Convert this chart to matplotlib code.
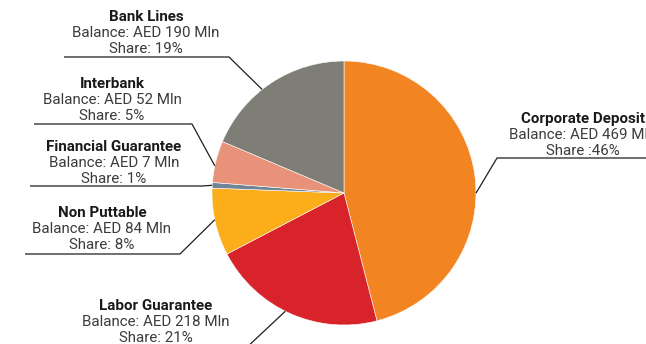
import numpy as np
import matplotlib
matplotlib.use("Agg")
import matplotlib.pyplot as plt

# deposit mix, clockwise from 12 o'clock
categories = ["Corporate Deposit", "Labor Guarantee", "Non Puttable",
              "Financial Guarantee", "Interbank", "Bank Lines"]
balances = [469, 218, 84, 7, 52, 190]  # AED Mln
shares = ["Share :46%", "Share: 21%", "Share: 8%", "Share: 1%", "Share: 5%", "Share: 19%"]
colors = ["#F28522", "#D9232A", "#FBAE1A", "#6F8494", "#E8927A", "#7E7E76"]

W, H = 646, 344
CX, CY, R = 344, 193, 132

# label block: text centre x, first line y, elbow x/y, underline far end x, tip angle offset (deg)
layout = {
    "Corporate Deposit":   (583, 119, 497, 158, 700, -7.3),
    "Labor Guarantee":     (156, 306, 244, 350, 60, -2.4),
    "Non Puttable":        (102, 213, 180, 254, 25, -1.0),
    "Financial Guarantee": (114, 147, 202, 186, 30, 0.0),
    "Interbank":           (112, 84, 192, 124, 34, 1.9),
    "Bank Lines":          (146, 17, 229, 57, 64, 4.8),
}

plt.rcParams["font.family"] = ["Roboto", "DejaVu Sans"]
FS = 10.9

fig = plt.figure(figsize=(W / 100, H / 100), dpi=100)
ax = fig.add_axes([0, 0, 1, 1])


def fy(y):
    # pixel row (from top) to data y
    return H - y


wedges, _ = ax.pie(balances, colors=colors, startangle=90, counterclock=False,
                   center=(CX, fy(CY)), radius=R, frame=True,
                   wedgeprops=dict(edgecolor="white", linewidth=0.4))
ax.set_xlim(0, W)
ax.set_ylim(0, H)
ax.axis("off")

for w, cat, bal, sh in zip(wedges, categories, balances, shares):
    tx, ty, ex, ey, lx, dang = layout[cat]
    ang = np.deg2rad((w.theta1 + w.theta2) / 2 + dang)
    tip = (CX + R * np.cos(ang), fy(CY) + R * np.sin(ang))
    ax.plot([tip[0], ex, lx], [tip[1], fy(ey), fy(ey)], color="#1e1e1e",
            lw=0.9, solid_capstyle="butt", clip_on=True)
    ax.text(tx, fy(ty), cat, ha="center", va="center", fontsize=FS,
            fontweight="bold", color="#1a1a1a")
    ax.text(tx, fy(ty + 16), f"Balance: AED {bal} Mln", ha="center", va="center",
            fontsize=FS, color="#3c3c3c")
    ax.text(tx, fy(ty + 32), sh, ha="center", va="center", fontsize=FS, color="#3c3c3c")

fig.savefig("out.png", dpi=100, facecolor="white")
